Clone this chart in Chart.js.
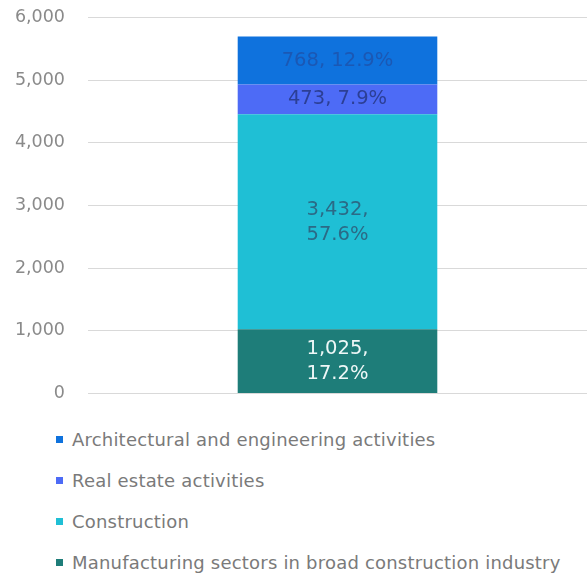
<!DOCTYPE html>
<html>
<head>
<meta charset="utf-8">
<script src="https://cdn.jsdelivr.net/npm/chart.js@4/dist/chart.umd.min.js"></script>
<style>
  html, body { margin: 0; padding: 0; background: #fff; }
  #wrap { position: relative; width: 587px; height: 443px; margin-top: -16px; }
  #legend { list-style: none; margin: 0; padding: 0; position: absolute; left: 52px; top: 429px; }
  #legend li { height: 41px; line-height: 20px; font: 18px "DejaVu Sans", sans-serif; letter-spacing: 0.2px; color: #7a7a7a; display: flex; align-items: flex-start; }
  #legend span { display: inline-block; width: 7px; height: 7px; margin: 7px 9px 0 4px; flex: none; }
</style>
</head>
<body>
<div id="wrap"><canvas id="mycanvas"></canvas></div>
<ul id="legend"></ul>
<script>
// stacked from the bottom up
var sectors = ['Manufacturing sectors in broad construction industry', 'Construction', 'Real estate activities', 'Architectural and engineering activities'];
var employment = [1025, 3432, 473, 768];
var shares = ['17.2%', '57.6%', '7.9%', '12.9%'];
var yTicks = [0, 1000, 2000, 3000, 4000, 5000, 6000];

var colours = ['#1e7d79', '#1fbfd5', '#4d6bf6', '#0f72dd'];
var labelColours = ['#eef7f7', '#2b6a86', '#2c3f95', '#1b58b4'];

var segmentLabels = {
	id: 'segmentLabels',
	afterDatasetsDraw: function(chart) {
		var ctx = chart.ctx;
		ctx.save();
		ctx.font = '19.5px "DejaVu Sans", sans-serif';
		ctx.textAlign = 'center';
		ctx.textBaseline = 'middle';
		chart.data.datasets.forEach(function(ds, i) {
			var bar = chart.getDatasetMeta(i).data[0];
			var mid = (bar.y + bar.base) / 2;
			var value = ds.data[0].toLocaleString('en-US');
			ctx.fillStyle = labelColours[i];
			if (Math.abs(bar.base - bar.y) > 55) {
				ctx.fillText(value + ',', bar.x, mid - 12);
				ctx.fillText(shares[i], bar.x, mid + 13);
			} else {
				ctx.fillText(value + ', ' + shares[i], bar.x, mid);
			}
		});
		ctx.restore();
	}
};

var datasets = [];
for (var i in sectors) {
	datasets.push({
		label: sectors[i],
		data: [employment[i]],
		backgroundColor: colours[i],
		borderWidth: 0,
		barPercentage: 0.8,
		categoryPercentage: 0.5
	});
}

var LineGarph = new Chart(document.getElementById('mycanvas'), {
	type: 'bar',
	data: { labels: [''], datasets: datasets },
	options: {
		responsive: true,
		maintainAspectRatio: false,
		animation: false,
		layout: { padding: 0 },
		plugins: { legend: { display: false }, tooltip: { enabled: false } },
		scales: {
			x: { stacked: true, display: false },
			y: {
				stacked: true,
				min: 0,
				max: 6000,
				afterBuildTicks: function(axis) {
					axis.ticks = yTicks.map(function(v) { return { value: v }; });
				},
				afterFit: function(axis) { axis.width = 88; },
				border: { display: false },
				grid: { color: '#d9d9d9', drawTicks: false },
				ticks: {
					padding: 23,
					color: '#8a8a8a',
					font: { family: 'DejaVu Sans', size: 17.5 },
					callback: function(v) { return v.toLocaleString('en-US'); }
				}
			}
		}
	},
	plugins: [segmentLabels]
});

// legend reads top segment first
var legend = document.getElementById('legend');
for (var j = sectors.length - 1; j >= 0; j--) {
	var li = document.createElement('li');
	li.innerHTML = '<span style="background:' + colours[j] + '"></span>' + sectors[j];
	legend.appendChild(li);
}
</script>
</body>
</html>
